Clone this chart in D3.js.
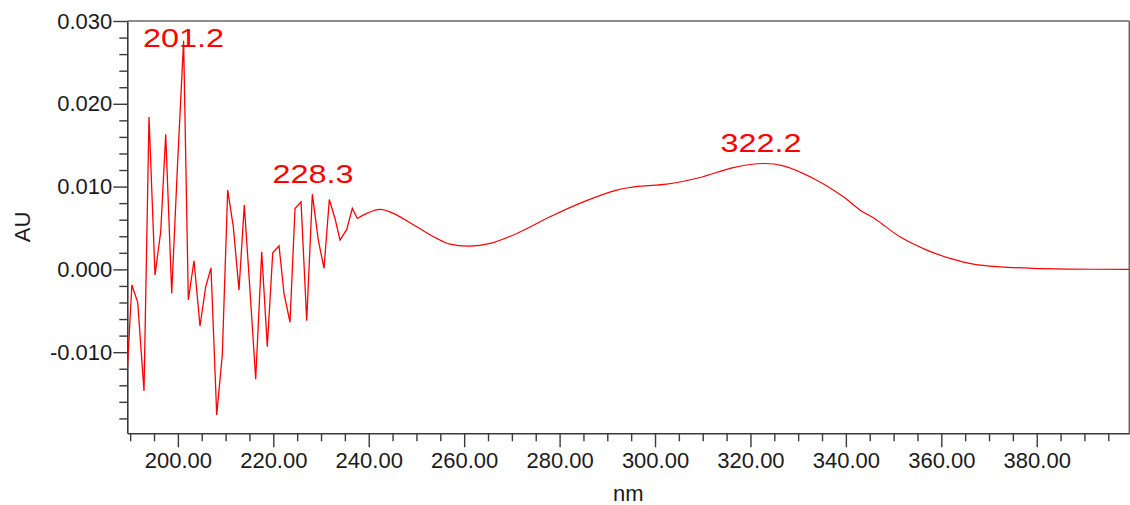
<!DOCTYPE html>
<html><head><meta charset="utf-8">
<script src="https://cdn.jsdelivr.net/npm/d3@7"></script>
<style>
body{margin:0;background:#fff;}
svg{display:block;}
text{font-family:"Liberation Sans", Arial, Helvetica, sans-serif;}
</style>
</head><body>
<svg id="c" width="1130" height="505"></svg>
<script>
// ---- data (wavelength in nm, absorbance in AU) ----
const noisyNm = [189.40,190.36,191.58,192.90,193.95,195.21,196.40,197.45,198.71,199.92,201.20,
  202.19,203.38,204.64,205.83,206.94,208.14,209.31,210.44,211.62,212.81,213.92,215.12,216.31,
  217.57,218.74,219.88,221.20,222.24,223.50,224.55,225.81,227.00,228.18,229.43,230.63,231.74,
  232.93,233.98,235.39,236.56,237.61];
const noisyAU = [-0.01215,-0.00189,-0.00398,-0.01468,0.01841,-0.00069,0.00454,0.01632,-0.00290,0.01258,0.02760,
  -0.00370,0.00104,-0.00684,-0.00210,0.00019,-0.01758,-0.01034,0.00957,0.00514,-0.00250,0.00776,-0.00262,-0.01327,
  0.00212,-0.00934,0.00200,0.00285,-0.00290,-0.00639,0.00736,0.00815,-0.00620,0.00908,0.00353,0.00012,0.00844,
  0.00615,0.00353,0.00483,0.00736,0.00615];
const smoothNm = [237.61,239.58,242.37,245.15,250.06,254.25,257.04,261.23,265.42,271.02,278.00,284.98,
  291.98,296.86,302.46,309.44,316.42,322.71,326.92,333.90,339.48,343.00,346.20,351.36,356.95,361.84,
  366.72,372.31,379.30,386.30,399.40];
const smoothAU = [0.00615,0.00676,0.00724,0.00676,0.00514,0.00374,0.00305,0.00281,0.00314,0.00434,0.00635,0.00815,
  0.00957,0.01005,0.01029,0.01110,0.01230,0.01279,0.01250,0.01077,0.00876,0.00715,0.00606,0.00393,0.00233,0.00133,
  0.00064,0.00031,0.00012,0.00004,0.00000];
const peakNm = [201.2, 228.3, 322.2];
const peakAU = [0.0276, 0.0091, 0.0128];
const peakLabels = ["201.2", "228.3", "322.2"];
const xMajorTicks = [200, 220, 240, 260, 280, 300, 320, 340, 360, 380];
const xMinorTicks = [190,195,205,210,215,225,230,235,245,250,255,265,270,275,285,290,295,
  305,310,315,325,330,335,345,350,355,365,370,375,385,390,395];
const yMajorTicks = [-0.010, 0.000, 0.010, 0.020, 0.030];
const yMinorTicks = [-0.018,-0.016,-0.014,-0.012,-0.008,-0.006,-0.004,-0.002,0.002,0.004,0.006,0.008,
  0.012,0.014,0.016,0.018,0.022,0.024,0.026,0.028];
const xTitle = "nm", yTitle = "AU";

// ---- layout ----
const L = 127.3, R = 1129.3, T = 21, B = 433.3;
const svg = d3.select("#c");
const x = d3.scaleLinear().domain([189.4, 399.4]).range([L, R]);
const y = d3.scaleLinear().domain([-0.0198, 0.030]).range([B, T]);
const axisColor = "#3a3a3a";

// frame (top/right)
svg.append("line").attr("x1", L).attr("x2", R).attr("y1", T).attr("y2", T)
  .attr("stroke", "#666").attr("stroke-width", 1.5);
svg.append("line").attr("x1", R).attr("x2", R).attr("y1", T).attr("y2", B)
  .attr("stroke", "#666").attr("stroke-width", 1.5);

// clip
svg.append("clipPath").attr("id", "clip").append("rect")
  .attr("x", L).attr("y", T).attr("width", R - L).attr("height", B - T);

// x axis
const gx = svg.append("g").attr("transform", `translate(0,${B})`)
  .call(d3.axisBottom(x).tickValues(xMajorTicks).tickSize(14).tickSizeOuter(0).tickPadding(5)
    .tickFormat(d => d.toFixed(2)));
const gxm = svg.append("g").attr("transform", `translate(0,${B})`)
  .call(d3.axisBottom(x).tickValues(xMinorTicks).tickSize(8).tickFormat(""));
gxm.select(".domain").remove();

// y axis
const gy = svg.append("g").attr("transform", `translate(${L},0)`)
  .call(d3.axisLeft(y).tickValues(yMajorTicks).tickSize(14).tickSizeOuter(0).tickPadding(1)
    .tickFormat(d => d.toFixed(3)));
const gym = svg.append("g").attr("transform", `translate(${L},0)`)
  .call(d3.axisLeft(y).tickValues(yMinorTicks).tickSize(8).tickFormat(""));
gym.select(".domain").remove();

[gx, gxm, gy, gym].forEach(g => {
  g.selectAll(".domain").attr("stroke", axisColor).attr("stroke-width", 1.6);
  g.selectAll(".tick line").attr("stroke", axisColor).attr("stroke-width", 1.4);
  g.selectAll("text").attr("fill", "#1a1a1a").style("font-size", "22px");
});

// titles
svg.append("text").attr("x", (L + R) / 2).attr("y", 501).attr("text-anchor", "middle")
  .attr("fill", "#1a1a1a").style("font-size", "22px").text(xTitle);
svg.append("text").attr("transform", "translate(30,227) rotate(-90)").attr("text-anchor", "middle")
  .attr("fill", "#1a1a1a").style("font-size", "22px").text(yTitle);

// data lines
const plot = svg.append("g").attr("clip-path", "url(#clip)");
const noisy = noisyNm.map((d, i) => [d, noisyAU[i]]);
const smooth = smoothNm.map((d, i) => [d, smoothAU[i]]);
plot.append("path").datum(noisy)
  .attr("d", d3.line().x(d => x(d[0])).y(d => y(d[1])).curve(d3.curveLinear))
  .attr("fill", "none").attr("stroke", "#ff0000").attr("stroke-width", 1.3).attr("stroke-linejoin", "miter");
plot.append("path").datum(smooth)
  .attr("d", d3.line().x(d => x(d[0])).y(d => y(d[1])).curve(d3.curveCatmullRom.alpha(0.5)))
  .attr("fill", "none").attr("stroke", "#ff0000").attr("stroke-width", 1.2);

// peak labels
peakNm.forEach((nm, i) => {
  const ty = Math.max(y(peakAU[i]) - 11, 47.3);
  svg.append("text").attr("x", x(nm)).attr("y", ty).attr("text-anchor", "middle")
    .attr("fill", "#ff0000").style("font-size", "26.5px")
    .attr("textLength", 81).attr("lengthAdjust", "spacingAndGlyphs")
    .text(peakLabels[i]);
});
</script>
</body></html>
